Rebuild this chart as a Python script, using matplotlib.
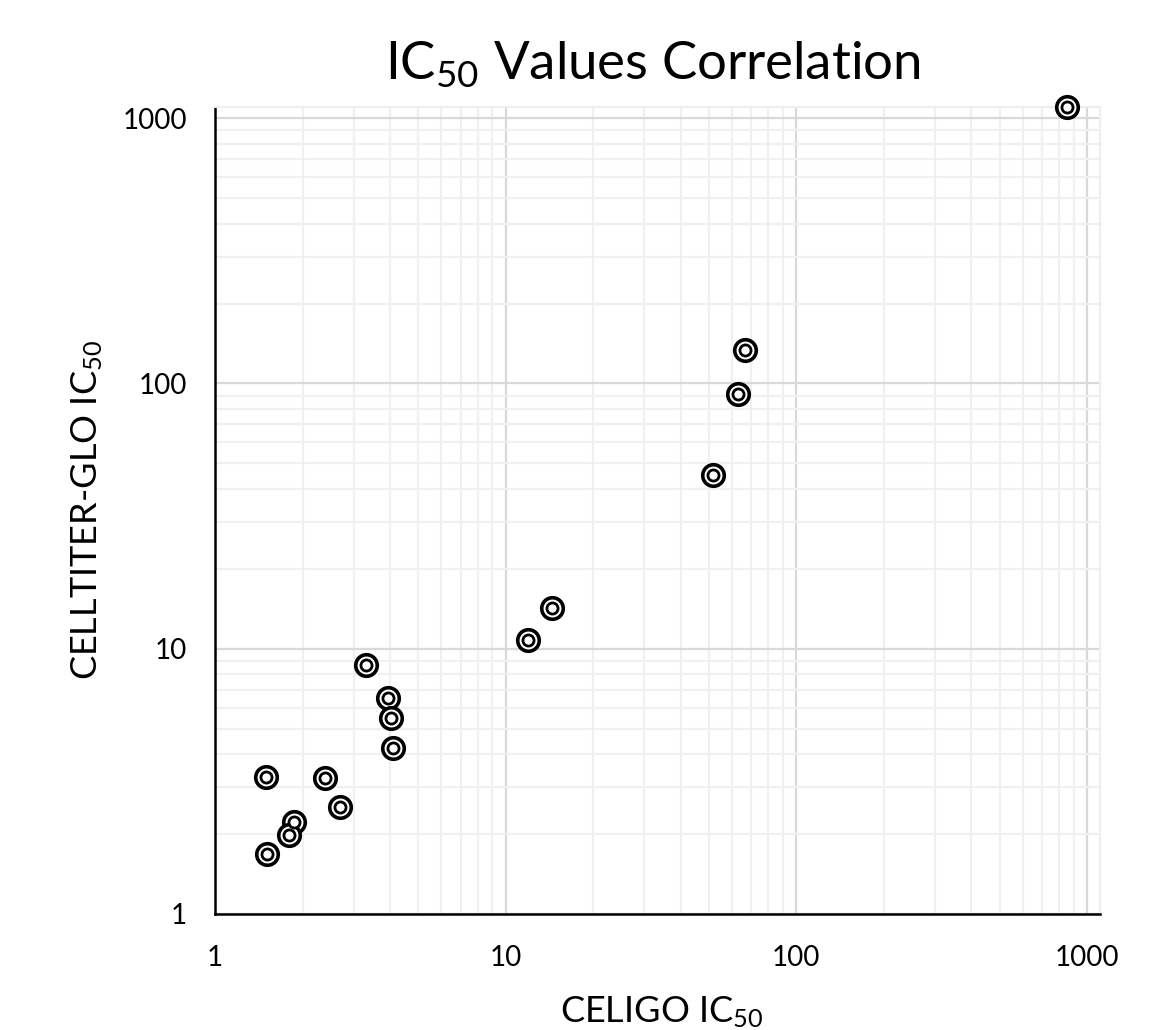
import matplotlib
matplotlib.use("Agg")
import matplotlib.pyplot as plt
from matplotlib.ticker import LogLocator, FixedLocator, NullFormatter

FONT = 'Lato'
plt.rcParams['font.family'] = [FONT, 'DejaVu Sans']
plt.rcParams['mathtext.fontset'] = 'custom'
plt.rcParams['mathtext.rm'] = FONT
plt.rcParams['mathtext.it'] = FONT
plt.rcParams['mathtext.bf'] = FONT

# Data
celigo_ic50 = [853, 66.6, 63.0, 51.6, 14.4, 11.9, 3.31, 3.94, 4.03, 4.10,
               1.50, 2.39, 2.69, 1.87, 1.80, 1.51]
celltiter_ic50 = [1100, 133.6, 91.2, 45.2, 14.2, 10.8, 8.68, 6.52, 5.48, 4.22,
                  3.28, 3.26, 2.53, 2.22, 1.99, 1.68]
major_ticks = [1, 10, 100, 1000]
major_labels = ["1", "10", "100", "1000"]

fig = plt.figure(figsize=(11.71, 10.30), dpi=100)
ax = fig.add_axes([215/1171, 1-914/1030, (1100-215)/1171, (914-107)/1030])

ax.set_xscale('log')
ax.set_yscale('log')
ax.set_xlim(1, 1108)
ax.set_ylim(1, 1101)

ax.xaxis.set_major_locator(FixedLocator(major_ticks))
ax.yaxis.set_major_locator(FixedLocator(major_ticks))
ax.set_xticklabels(major_labels)
ax.set_yticklabels(major_labels)
ax.xaxis.set_minor_locator(LogLocator(base=10, subs=range(2, 10), numticks=20))
ax.yaxis.set_minor_locator(LogLocator(base=10, subs=range(2, 10), numticks=20))
ax.xaxis.set_minor_formatter(NullFormatter())
ax.yaxis.set_minor_formatter(NullFormatter())

ax.grid(which='major', color='#d9d9d9', linewidth=1.6)
ax.grid(which='minor', color='#f0f0f0', linewidth=1.6)
ax.set_axisbelow(True)

ax.tick_params(which='both', length=0)
ax.tick_params(axis='x', labelsize=20, pad=22)
ax.tick_params(axis='y', labelsize=20, pad=20)

for s in ['left', 'bottom']:
    ax.spines[s].set_color('black')
    ax.spines[s].set_linewidth(1.8)
for s in ['top', 'right']:
    ax.spines[s].set_color('#eeeeee')
    ax.spines[s].set_linewidth(1.5)

ax.scatter(celigo_ic50, celltiter_ic50, s=15.5**2, facecolors='white',
           edgecolors='black', linewidths=2.6, zorder=3, clip_on=False)
ax.scatter(celigo_ic50, celltiter_ic50, s=8**2, facecolors='white',
           edgecolors='black', linewidths=2.0, zorder=4, clip_on=False)

fig.text(653/1171, 1-80/1030, "IC$_{50}$ Values Correlation", fontsize=38,
         ha='center', va='baseline')
fig.text(662/1171, 1-1022/1030, "CELIGO IC$_{50}$", fontsize=26,
         ha='center', va='baseline')
fig.text(97/1171, 1-510/1030, "CELLTITER-GLO IC$_{50}$", fontsize=26,
         ha='center', va='baseline', rotation=90, rotation_mode='anchor')

fig.savefig("out.png", dpi=100)
